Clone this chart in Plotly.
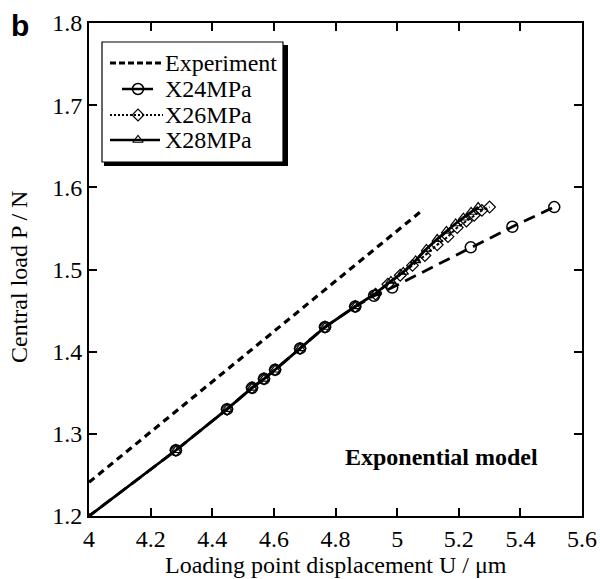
import plotly.graph_objects as go

# Load–displacement data, exponential cohesive model
exp_u = [4.0, 4.532, 5.075]
exp_p = [1.241, 1.404, 1.570]

x24_u = [3.99, 4.282, 4.448, 4.529, 4.568, 4.604, 4.685, 4.766, 4.864, 4.925, 4.984, 5.239, 5.374, 5.51]
x24_p = [1.197, 1.280, 1.330, 1.356, 1.367, 1.378, 1.404, 1.430, 1.455, 1.468, 1.478, 1.527, 1.552, 1.576]

x26_u = [3.99, 4.282, 4.448, 4.529, 4.568, 4.604, 4.685, 4.766, 4.864, 4.93, 4.97, 5.01, 5.05,
         5.09, 5.13, 5.165, 5.195, 5.225, 5.25, 5.275, 5.30]
x26_p = [1.197, 1.280, 1.330, 1.356, 1.367, 1.378, 1.404, 1.430, 1.455, 1.470, 1.482, 1.493, 1.505,
         1.517, 1.530, 1.540, 1.551, 1.559, 1.566, 1.572, 1.576]

x28_u = [3.99, 4.282, 4.448, 4.529, 4.568, 4.604, 4.685, 4.766, 4.864, 4.93, 4.98, 5.02, 5.06,
         5.095, 5.13, 5.16, 5.19, 5.215, 5.24, 5.263]
x28_p = [1.197, 1.280, 1.330, 1.356, 1.367, 1.378, 1.404, 1.430, 1.455, 1.471, 1.486, 1.497, 1.511,
         1.525, 1.537, 1.547, 1.556, 1.563, 1.570, 1.576]

x_ticks = [4, 4.2, 4.4, 4.6, 4.8, 5, 5.2, 5.4, 5.6]
y_ticks = [1.2, 1.3, 1.4, 1.5, 1.6, 1.7, 1.8]

SERIF = "Liberation Serif, Times New Roman, serif"

# Plot-area geometry (pixels) used to place the hand-built legend box
L, T, W, H = 89, 23, 493, 493


def px(x):
    return (x - L) / W


def py(y):
    return 1 - (y - T) / H


series = [
    dict(name="Experiment", u=exp_u, p=exp_p,
         line=dict(color="black", width=3.2, dash="7px,5px"), marker=None),
    dict(name="X24MPa", u=x24_u, p=x24_p,
         line=dict(color="black", width=2.8, dash="12px,7px"),
         marker=dict(symbol="circle-open", size=11, color="black",
                     line=dict(width=1.5, color="black"))),
    dict(name="X26MPa", u=x26_u, p=x26_p,
         line=dict(color="black", width=2, dash="3px,2px"),
         marker=dict(symbol="diamond-open", size=9, color="black",
                     line=dict(width=1.2, color="black"))),
    dict(name="X28MPa", u=x28_u, p=x28_p,
         line=dict(color="black", width=2.8),
         marker=dict(symbol="triangle-up-open", size=9, color="black",
                     line=dict(width=1.2, color="black"))),
]

fig = go.Figure()
for s in series:
    if s["marker"] is None:
        fig.add_trace(go.Scatter(x=s["u"], y=s["p"], mode="lines", name=s["name"],
                                 line=s["line"], showlegend=False))
    else:
        fig.add_trace(go.Scatter(x=s["u"], y=s["p"], mode="lines+markers", name=s["name"],
                                 line=s["line"], marker=s["marker"], showlegend=False))

# Legend: framed box with a drop shadow, line samples and labels
fig.add_shape(type="rect", xref="paper", yref="paper",
              x0=px(104), x1=px(288), y0=py(166), y1=py(45),
              fillcolor="black", line=dict(width=0), layer="below")
fig.add_shape(type="rect", xref="paper", yref="paper",
              x0=px(102), x1=px(283), y0=py(162), y1=py(42),
              fillcolor="white", line=dict(color="black", width=1.2), layer="below")

legend_rows = [63, 89, 115, 140]
sample_spans = [(110, 162), (122, 153), (110, 163), (110, 160)]
sample_lines = [
    dict(color="black", width=3, dash="6px,3px"),
    dict(color="black", width=2.5),
    dict(color="black", width=2, dash="2px,2px"),
    dict(color="black", width=2.5),
]
for s, yy, (xa, xb), ln in zip(series, legend_rows, sample_spans, sample_lines):
    fig.add_trace(go.Scatter(x=[px(xa), px(xb)], y=[py(yy), py(yy)], mode="lines",
                             line=ln, xaxis="x2", yaxis="y2", showlegend=False,
                             hoverinfo="skip"))
    if s["marker"] is not None:
        fig.add_trace(go.Scatter(x=[px(138)], y=[py(yy)], mode="markers",
                                 marker=s["marker"], xaxis="x2", yaxis="y2",
                                 showlegend=False, hoverinfo="skip"))
    fig.add_annotation(xref="paper", yref="paper", x=px(163), y=py(yy),
                       xanchor="left", yanchor="middle", showarrow=False,
                       text=s["name"], font=dict(family=SERIF, size=24, color="black"))

axis_common = dict(showline=True, linecolor="black", linewidth=1.8, mirror="ticks",
                   ticks="inside", ticklen=8, tickwidth=1.5, tickcolor="black",
                   showgrid=False, zeroline=False, automargin=False,
                   tickfont=dict(family=SERIF, size=24, color="black"))

fig.update_xaxes(range=[4, 5.6], tickvals=x_ticks, ticktext=[f"{v:g}" for v in x_ticks],
                 **axis_common)
fig.update_yaxes(range=[1.2, 1.8], tickvals=y_ticks, ticktext=[f"{v:.1f}" for v in y_ticks],
                 **axis_common)

# Axis titles
fig.add_annotation(xref="paper", yref="paper", x=0.5, y=py(565), xanchor="center",
                   yanchor="middle", showarrow=False,
                   text="Loading point displacement U / μm",
                   font=dict(family=SERIF, size=24, color="black"))
fig.add_annotation(xref="paper", yref="paper", x=px(19), y=py(277), xanchor="center",
                   yanchor="middle", showarrow=False, textangle=-90,
                   text="Central load P / N",
                   font=dict(family=SERIF, size=24, color="black"))

fig.add_annotation(x=5.143, y=1.272, text="<b>Exponential model</b>", showarrow=False,
                   font=dict(family=SERIF, size=24, color="black"))
fig.add_annotation(xref="paper", yref="paper", x=px(20), y=py(25),
                   text="<b>b</b>", showarrow=False, xanchor="center", yanchor="middle",
                   font=dict(family="Liberation Sans, Arial, sans-serif", size=30, color="black"))

fig.update_layout(
    width=600, height=579,
    margin=dict(l=89, r=18, t=23, b=63),
    paper_bgcolor="white", plot_bgcolor="white",
    showlegend=False,
    xaxis2=dict(overlaying="x", range=[0, 1], visible=False, fixedrange=True),
    yaxis2=dict(overlaying="y", range=[0, 1], visible=False, fixedrange=True),
)

fig.write_html("out.html")
